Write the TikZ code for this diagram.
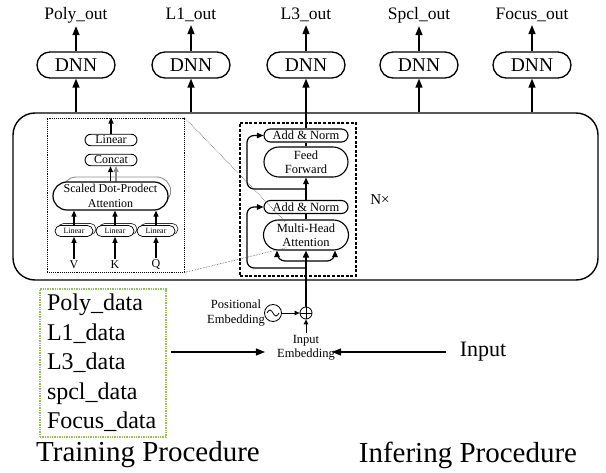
\documentclass[tikz,border=0pt]{standalone}
\usepackage{fontspec}
\setmainfont{Liberation Serif}
\usetikzlibrary{arrows.meta,calc,shapes.misc}
\definecolor{datagreen}{RGB}{146,196,84}
\definecolor{ghost}{RGB}{140,140,140}
\newcommand{\fsz}[1]{\fontsize{#1}{#1}\selectfont}
\begin{document}
\begin{tikzpicture}[x=1pt,y=-1pt,
  arr/.style={-{Triangle[length=9pt,width=7pt]},line width=1.4pt},
  sarr/.style={-{Triangle[length=6.5pt,width=5.5pt]},line width=1.2pt},
  tarr/.style={-{Triangle[length=5pt,width=4.5pt]},line width=0.9pt},
  outlbl/.style={font=\fsz{17.5},inner sep=3pt},
  dnnbox/.style={draw,rounded rectangle,line width=1.3pt,minimum width=78pt,
    minimum height=26pt,inner sep=0pt,font=\fsz{19.5}},
  encpill/.style={draw,rounded rectangle,fill=white,line width=1.1pt,inner sep=0pt,
    align=center,minimum width=84pt,font=\fontsize{12.5}{14.5}\selectfont},
  smallpill/.style={draw,rounded rectangle,fill=white,line width=0.9pt,inner sep=0pt,
    align=center,font=\fontsize{12}{14.5}\selectfont},
  tinypill/.style={draw,rounded rectangle,fill=white,line width=0.7pt,inner sep=0pt,
    minimum width=38pt,minimum height=11pt,font=\fsz{8}},
  lbl/.style={align=center,inner sep=2pt,font=\fontsize{12.5}{14.5}\selectfont},
  zoomline/.style={densely dotted,line width=0.6pt,draw=black!70},
]
\useasboundingbox (0,0) rectangle (606,473);

% outer stack frame
\node[draw,rounded corners=22pt,line width=1.4pt,minimum width=585pt,minimum height=167pt,
  inner sep=0pt] (frame) at (305.5,196.5) {};

% output heads
\node[dnnbox] (dnnP) at (76,65) {DNN};
\node[dnnbox] (dnnA) at (191,65) {DNN};
\node[dnnbox] (dnnB) at (306,65) {DNN};
\node[dnnbox] (dnnS) at (419,65) {DNN};
\node[dnnbox] (dnnF) at (532,65) {DNN};
\node[outlbl] (outP) at (76,15) {Poly\_out};
\node[outlbl] (outA) at (191,15) {L1\_out};
\node[outlbl] (outB) at (306,15) {L3\_out};
\node[outlbl] (outS) at (419,15) {Spcl\_out};
\node[outlbl] (outF) at (532,15) {Focus\_out};
\foreach \n in {P,A,B,S,F} \draw[arr] (dnn\n.north) -- (out\n.south);
\foreach \n in {P,A,S,F} \draw[arr] (dnn\n.south |- frame.north) -- (dnn\n.south);

% attention detail
\node[draw,densely dotted,line width=0.9pt,minimum width=137pt,minimum height=154pt,
  inner sep=0pt] (attn) at (115.5,195) {};
\draw[-{Triangle[length=6pt,width=5pt]},line width=1.1pt,ghost] (116,186) -- (116,166);
\node[draw=ghost,rounded rectangle,line width=0.9pt,minimum width=115pt,minimum height=28pt]
  (sdpaS) at (116.5,191) {};
\node[smallpill,minimum width=115pt,minimum height=28pt,line width=1.2pt] (sdpa) at (110.5,196)
  {Scaled Dot-Prodect\\Attention};
\node[smallpill,minimum width=52pt,minimum height=11.5pt] (concat) at (111,160) {Concat};
\node[smallpill,minimum width=52pt,minimum height=11.5pt] (linO) at (111,140) {Linear};
\draw[-{Triangle[length=6pt,width=5pt]},line width=1.1pt] (sdpa.north) -- (sdpa.north |- concat.south);
\draw[-{Triangle[length=6pt,width=5pt]},line width=1.1pt] (linO.north) -- (linO.north |- attn.north);
\foreach \n/\x in {V/74,K/115,Q/156}{
  \node[tinypill,draw=black!80] (lin\n S) at (\x+3,229) {};
  \node[tinypill] (lin\n) at (\x,231) {Linear};
  \node[font=\fsz{12},inner sep=2pt] (in\n) at (\x,265) {\n};
  \draw[-{Triangle[length=6pt,width=5pt]},line width=1.1pt] (in\n.north) -- (lin\n.south);
  \draw[-{Triangle[length=6pt,width=5pt]},line width=1.1pt] (lin\n.north) -- (lin\n.north |- sdpa.south);
}

% encoder layer
\node[draw,dash pattern=on 3pt off 1.6pt,line width=1.4pt,minimum width=116pt,
  minimum height=153pt,inner sep=0pt] (enc) at (298,199.5) {};
\node[encpill,minimum height=13pt] (an2) at (306,135.5) {Add \& Norm};
\node[encpill,minimum height=30pt] (ff) at (306,162) {Feed\\Forward};
\node[encpill,minimum height=13pt] (an1) at (306,207) {Add \& Norm};
\node[encpill,minimum height=30pt,minimum width=85pt] (mha) at (306,235) {Multi-Head\\Attention};
\coordinate (lane) at (247,0);
\coordinate (res2) at (306,189);
\coordinate (res1) at (306,268);
\coordinate (fork) at (306,261);
\draw[line width=1.2pt] (mha.north) -- (an1.south);
\draw[sarr] (an1.north) -- (ff.south);
\draw[line width=1.2pt] (ff.north) -- (an2.south);
\draw[arr] (an2.north) -- (dnnB.south);
\draw[sarr,rounded corners=7pt] (res2) -| (lane |- an2.west) -- (an2.west);
\draw[sarr,rounded corners=7pt] (res1) -| (lane |- an1.west) -- (an1.west);
\draw[sarr,rounded corners=8pt] (fork) -| ($(mha.south)+(-29,0)$);
\draw[sarr,rounded corners=8pt] (fork) -| ($(mha.south)+(29,0)$);
\node[font=\fsz{15}] (nx) at (380,200) {N×};

% zoom guides
\draw[zoomline] (attn.north east) -- ($(mha.north west)+(6.5,2)$);
\draw[zoomline] (attn.south east) -- ($(mha.south west)+(8.5,-3)$);

% embeddings
\node[draw,circle,minimum size=12pt,inner sep=0pt,line width=0.8pt] (plus) at (306,313) {};
\draw[line width=0.7pt] (plus.north) -- (plus.south) (plus.west) -- (plus.east);
\node[draw,circle,minimum size=17pt,inner sep=0pt,line width=0.8pt] (sine) at (273,313) {};
\draw[line width=0.8pt] ($(sine.center)+(-6,0)$) sin ++(3,-3) cos ++(3,3) sin ++(3,3) cos ++(3,-3);
\node[lbl] (pos) at (236,313) {Positional\\Embedding};
\node[lbl] (ie) at (306,348) {Input\\Embedding};
\draw[tarr] (sine.east) -- (plus.west);
\draw[tarr] (ie.north) -- (plus.south);
\draw[-{Triangle[length=7pt,width=6pt]},line width=1.6pt] (plus.north) -- (mha.south);

% training data and inference input
\node[draw=datagreen,densely dotted,line width=1.4pt,minimum width=126pt,minimum height=148pt,
  text width=112pt,inner xsep=7pt,align=left,font=\fontsize{24}{29.5}\selectfont]
  (data) at (103,363) {Poly\_data\\L1\_data\\L3\_data\\spcl\_data\\Focus\_data};
\coordinate (trainEnd) at (171,352);
\draw[arr,line width=1.2pt] (trainEnd) -- (trainEnd -| ie.west) [shorten >=10pt];
\node[font=\fsz{22}] (inp) at (483,352) {Input};
\draw[arr,line width=1.2pt,shorten <=10pt,shorten >=-5pt] (inp.west) -- (inp.west -| ie.east);

\node[font=\fsz{29}] (train) at (148,455) {Training Procedure};
\node[font=\fsz{29}] (infer) at (468,455) {Infering Procedure};
\end{tikzpicture}
\end{document}
